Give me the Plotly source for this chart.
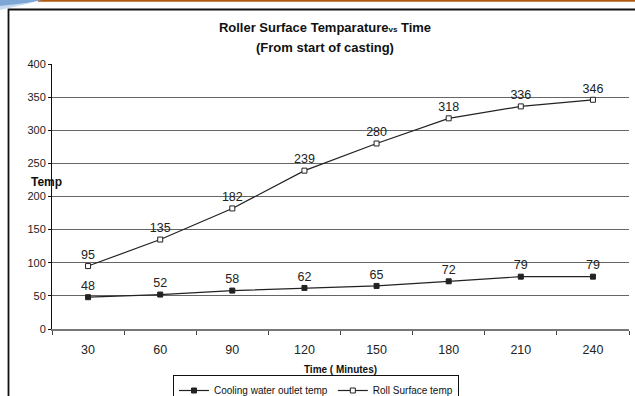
import plotly.graph_objects as go

categories = ["30", "60", "90", "120", "150", "180", "210", "240"]
cooling = [48, 52, 58, 62, 65, 72, 79, 79]
roll = [95, 135, 182, 239, 280, 318, 336, 346]
y_ticks = [0, 50, 100, 150, 200, 250, 300, 350, 400]
grid_vals = [50, 100, 150, 200, 250, 300, 350]

W, H = 635, 396
L, R, T, B = 52, 6, 64, 67
pw, ph = W - L - R, H - T - B

def px(x):
    return (x - L) / pw

def py(y):
    return (H - B - y) / ph

font = "Liberation Sans, Arial, sans-serif"

fig = go.Figure()
fig.add_trace(go.Scatter(
    x=categories, y=cooling, name="Cooling water outlet temp",
    mode="lines+markers+text", text=[str(v) for v in cooling],
    textposition="top center", textfont=dict(size=12.5, color="#222"),
    line=dict(color="#222", width=1.2),
    marker=dict(symbol="square", size=5, color="#222", line=dict(color="#222", width=1)),
))
fig.add_trace(go.Scatter(
    x=categories, y=roll, name="Roll Surface temp",
    mode="lines+markers+text", text=[str(v) for v in roll],
    textposition="top center", textfont=dict(size=12.5, color="#222"),
    line=dict(color="#222", width=1.2),
    marker=dict(symbol="square", size=5, color="white", line=dict(color="#222", width=1)),
))
fig.add_trace(go.Scatter(x=categories, y=[None]*len(categories), yaxis="y2",
                         showlegend=False, hoverinfo="skip"))

fig.update_layout(
    width=W, height=H, margin=dict(l=L, r=R, t=T, b=B, autoexpand=False),
    paper_bgcolor="white", plot_bgcolor="rgba(0,0,0,0)",
    font=dict(family=font, size=11, color="#222"),
    title=dict(
        text="<b>Roller Surface Temparature<span style='font-size:8px'>vs</span> Time</b>",
        x=325 / W, xref="container", xanchor="center", y=1 - 27 / H, yref="container", yanchor="middle",
        font=dict(size=13, color="#111"),
    ),
    xaxis=dict(
        type="category", range=[-0.5, 7.5], showgrid=False,
        showline=True, linecolor="#777", linewidth=1.5,
        ticks="outside", ticklen=4, tickcolor="#444", tickson="boundaries",
        tickfont=dict(size=12.5, color="#222"), ticklabelstandoff=8,
        title=dict(text="<b>Time ( Minutes)</b>", font=dict(size=10, color="#111"), standoff=10),
        zeroline=False,
    ),
    yaxis=dict(
        range=[0, 400], tickvals=y_ticks, showgrid=False,
        showline=True, linecolor="#111", linewidth=1,
        ticks="outside", ticklen=3, tickcolor="#111",
        tickfont=dict(size=11, color="#222"), zeroline=False,
    ),
    yaxis2=dict(
        range=[0, 400], overlaying="y", tickvals=grid_vals, showticklabels=False,
        showgrid=True, gridcolor="#666", gridwidth=1, zeroline=False, showline=False,
    ),
    legend=dict(
        orientation="h", x=px(173), y=py(375), xanchor="left", yanchor="top",
        bordercolor="#111", borderwidth=1, bgcolor="white",
        font=dict(size=10, color="#111"), itemwidth=30, tracegroupgap=0,
    ),
    showlegend=True,
)

fig.add_annotation(text="<b>(From start of casting)</b>", xref="paper", yref="paper",
                   x=px(325), y=py(47), xanchor="center", yanchor="middle", showarrow=False,
                   font=dict(size=13, color="#111"))
fig.add_annotation(text="<b>Temp</b>", xref="paper", yref="paper",
                   x=px(29), y=py(182), showarrow=False,
                   font=dict(size=12, color="#111"))

shapes = [
    dict(type="rect", xref="paper", yref="paper", x0=px(8.5), x1=px(W + 10),
         y0=py(H + 10), y1=py(9.5), line=dict(color="#111", width=1.8)),
    dict(type="line", xref="paper", yref="paper", x0=px(38), x1=px(W),
         y0=py(0.8), y1=py(0.8), line=dict(color="#B05A10", width=2)),
    dict(type="path", xref="paper", yref="paper",
         path=f"M {px(0)} {py(0)} L {px(42)} {py(0)} L {px(0)} {py(9)} Z",
         fillcolor="#7FA7D6", line=dict(width=0)),
    dict(type="path", xref="paper", yref="paper",
         path=f"M {px(0)} {py(6)} L {px(35)} {py(2)} L {px(0)} {py(10)} Z",
         fillcolor="#C8DAF0", line=dict(width=0)),
]
fig.update_layout(shapes=shapes)

fig.write_html("out.html")
